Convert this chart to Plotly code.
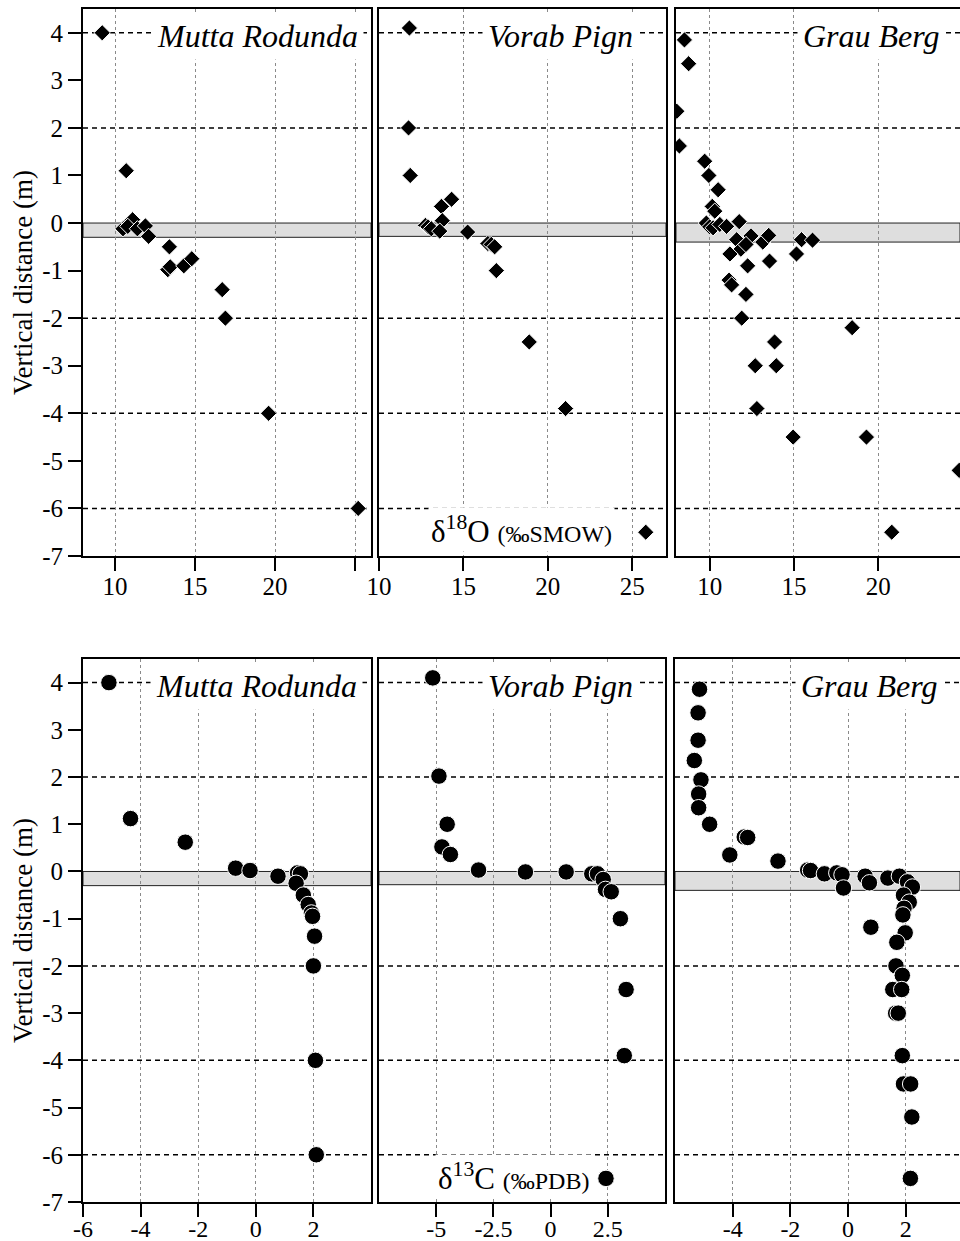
import plotly.graph_objects as go

# ---------------- data ----------------
sites = ["Mutta Rodunda", "Vorab Pign", "Grau Berg"]

# delta 18O (permil SMOW) vs vertical distance (m)
mr_o_x = [9.2, 10.7, 10.5, 10.9, 11.1, 10.8, 11.4, 11.9, 12.1, 13.4, 13.3, 13.45, 14.3, 14.8, 16.7, 16.9, 19.6, 25.2]
mr_o_y = [4.0, 1.1, -0.12, 0.0, 0.07, -0.07, -0.12, -0.06, -0.28, -0.5, -0.98, -0.92, -0.9, -0.75, -1.4, -2.0, -4.0, -6.0]

vp_o_x = [11.8, 11.75, 11.85, 14.3, 13.7, 13.75, 12.75, 12.9, 13.1, 13.6, 15.25, 16.45, 16.65, 16.85, 16.95, 18.9, 21.05]
vp_o_y = [4.1, 2.0, 1.0, 0.5, 0.35, 0.05, -0.05, -0.08, -0.12, -0.17, -0.19, -0.43, -0.45, -0.5, -1.0, -2.5, -3.9]

gb_o_x = [8.5, 8.75, 8.05, 8.2, 9.7, 9.95, 10.5, 10.15, 10.3, 9.8, 10.0, 10.2, 10.6, 11.0, 11.75, 11.6,
          12.45, 13.15, 13.5, 11.85, 12.15, 11.2, 12.25, 13.55, 15.15, 15.45, 16.1, 11.15, 11.3, 12.15,
          11.9, 18.45, 13.85, 12.7, 13.95, 12.8, 14.95, 19.3, 24.8, 20.8]
gb_o_y = [3.85, 3.35, 2.35, 1.62, 1.3, 1.0, 0.7, 0.35, 0.25, 0.0, -0.08, -0.1, -0.03, -0.07, 0.03, -0.35,
          -0.27, -0.4, -0.26, -0.55, -0.45, -0.65, -0.9, -0.8, -0.65, -0.35, -0.36, -1.2, -1.3, -1.5,
          -2.0, -2.2, -2.5, -3.0, -3.0, -3.9, -4.5, -4.5, -5.2, -6.5]

# delta 13C (permil PDB) vs vertical distance (m)
mr_c_x = [-5.1, -4.35, -2.45, -0.7, -0.2, 0.77, 1.45, 1.55, 1.4, 1.65, 1.82, 1.93, 1.97, 2.04, 2.0, 2.07, 2.1]
mr_c_y = [4.0, 1.12, 0.62, 0.07, 0.02, -0.1, -0.03, -0.05, -0.25, -0.5, -0.7, -0.88, -0.95, -1.37, -2.0, -4.0, -6.0]

vp_c_x = [-5.15, -4.88, -4.52, -4.75, -4.38, -3.15, -1.1, 0.68, 1.8, 2.05, 2.3, 2.4, 2.65, 3.05, 3.3, 3.22]
vp_c_y = [4.1, 2.02, 1.0, 0.52, 0.36, 0.03, -0.01, -0.01, -0.05, -0.05, -0.17, -0.38, -0.43, -1.0, -2.5, -3.9]

gb_c_x = [-5.15, -5.2, -5.2, -5.33, -5.1, -5.18, -5.18, -4.8, -4.1, -3.6, -3.48, -2.43, -1.4, -1.3, -0.82,
          -0.39, -0.21, -0.16, 0.59, 0.74, 1.38, 1.78, 2.06, 2.23, 1.92, 2.12, 1.94, 1.9, 0.79, 1.98, 1.69,
          1.66, 1.88, 1.55, 1.86, 1.65, 1.74, 1.88, 1.92, 2.17, 2.21, 2.16]
gb_c_y = [3.86, 3.36, 2.78, 2.35, 1.94, 1.64, 1.35, 1.0, 0.35, 0.73, 0.72, 0.22, 0.03, 0.02, -0.05,
          -0.03, -0.07, -0.35, -0.1, -0.24, -0.14, -0.1, -0.22, -0.33, -0.5, -0.65, -0.78, -0.92, -1.18, -1.3, -1.5,
          -2.0, -2.2, -2.5, -2.5, -3.0, -3.0, -3.9, -4.5, -4.5, -5.2, -6.5]

# legend symbols next to the isotope labels
leg_o_x, leg_o_y = [25.8], [-6.5]
leg_c_x, leg_c_y = [2.42], [-6.5]

# reference lines and shaded contact band depth per site
ref_lines = [4, 2, -2, -4, -6]
band_depth = [0.3, 0.28, 0.4]

y_ticks = list(range(-7, 5))
y_ticktext = [str(v) for v in y_ticks]
top_xticks = [[10, 15, 20, 25], [10, 15, 20, 25], [10, 15, 20]]
top_xtext = [["10", "15", "20", " "], ["10", "15", "20", "25"], ["10", "15", "20"]]
bot_xticks = [[-6, -4, -2, 0, 2], [-5, -2.5, 0, 2.5], [-4, -2, 0, 2]]
bot_xtext = [["-6", "-4", "-2", "0", "2"], ["-5", "-2.5", "0", "2.5"], ["-4", "-2", "0", "2"]]
top_ranges = [[8, 26], [10, 27], [8, 24.85]]
bot_ranges = [[-6, 4], [-7.5, 5], [-6, 3.88]]

# ---------------- layout geometry ----------------
W, H = 960, 1241
FONT = "Liberation Serif, Times New Roman, serif"
xdom_px = [(83, 371), (379, 666), (676, 960)]
xdom_px_bot = [(83, 371), (379, 665), (675, 960)]
ytop_px = (9, 556)
ybot_px = (659, 1202)


def ydom(p):
    return [1 - p[1] / H, 1 - p[0] / H]


fig = go.Figure()

top_data = [(mr_o_x, mr_o_y), (vp_o_x, vp_o_y), (gb_o_x, gb_o_y)]
bot_data = [(mr_c_x, mr_c_y), (vp_c_x, vp_c_y), (gb_c_x, gb_c_y)]

diamond = dict(symbol="diamond", size=12.5, color="black", line=dict(color="white", width=1))
circle = dict(symbol="circle", size=16.5, color="black", line=dict(color="white", width=1))

layout_axes = {}
shapes = []
annotations = []

for row in range(2):
    for col in range(3):
        idx = row * 3 + col + 1
        sfx = "" if idx == 1 else str(idx)
        xa, ya = "x" + sfx, "y" + sfx
        if row == 0:
            xs, ys = top_data[col]
            mk = diamond
            rng = top_ranges[col]
            tv, tt = top_xticks[col], top_xtext[col]
            xd = xdom_px[col]
            yd = ydom(ytop_px)
            standoff = -6
            tfs = 25
        else:
            xs, ys = bot_data[col]
            mk = circle
            rng = bot_ranges[col]
            tv, tt = bot_xticks[col], bot_xtext[col]
            xd = xdom_px_bot[col]
            yd = ydom(ybot_px)
            standoff = -9
            tfs = 24

        # shaded band
        shapes.append(dict(type="rect", xref=xa + " domain", yref=ya, x0=0, x1=1,
                           y0=-band_depth[col], y1=0, fillcolor="#dedede",
                           line=dict(color="#222", width=1), layer="below"))
        # dashed reference lines
        for v in ref_lines:
            shapes.append(dict(type="line", xref=xa + " domain", yref=ya, x0=0, x1=1,
                               y0=v, y1=v, line=dict(color="black", width=1.5, dash="5px,4px"),
                               layer="below"))

        fig.add_trace(go.Scatter(x=xs, y=ys, mode="markers", marker=mk,
                                 xaxis=xa, yaxis=ya, showlegend=False, cliponaxis=True))

        layout_axes["xaxis" + sfx] = dict(
            domain=[xd[0] / W, xd[1] / W], anchor=ya, range=rng,
            tickvals=tv, ticktext=tt, ticks="outside", ticklen=13, tickwidth=1.5,
            tickcolor="black", showline=True, linecolor="black", linewidth=2, mirror=True,
            showgrid=True, gridcolor="#8a8a8a", griddash="dot", gridwidth=1,
            zeroline=False, automargin=False, ticklabelstandoff=standoff,
            tickfont=dict(family=FONT, size=tfs, color="black"))
        layout_axes["yaxis" + sfx] = dict(
            domain=yd, anchor=xa, range=[-7, 4.5],
            tickvals=y_ticks if col == 0 else [],
            ticktext=y_ticktext if col == 0 else [],
            ticks="outside" if col == 0 else "", ticklen=13, tickwidth=1.5, tickcolor="black",
            showticklabels=(col == 0),
            showline=True, linecolor="black", linewidth=2, mirror=(col != 2),
            showgrid=False, zeroline=False, automargin=False,
            tickfont=dict(family=FONT, size=25, color="black"))

# legend symbols
fig.add_trace(go.Scatter(x=leg_o_x, y=leg_o_y, mode="markers", marker=diamond,
                         xaxis="x2", yaxis="y2", showlegend=False))
fig.add_trace(go.Scatter(x=leg_c_x, y=leg_c_y, mode="markers", marker=circle,
                         xaxis="x5", yaxis="y5", showlegend=False))

# site labels
site_cx_top = [257.5, 560, 871]
site_cx_bot = [256.7, 560, 869]
for col in range(3):
    for row, cx in ((0, site_cx_top[col]), (1, site_cx_bot[col])):
        ya = "y" if (row == 0 and col == 0) else "y" + str(row * 3 + col + 1)
        annotations.append(dict(
            text=sites[col], x=cx / W, xref="paper", y=4, yref=ya, yshift=-3,
            showarrow=False, xanchor="center", yanchor="middle",
            bgcolor="white", borderpad=5,
            font=dict(family=FONT, size=32, color="black", style="italic")))

# y titles
for ypx in ((ytop_px[0] + ytop_px[1]) / 2, (ybot_px[0] + ybot_px[1]) / 2):
    annotations.append(dict(text="Vertical distance (m)", x=22.5 / W, y=1 - ypx / H,
                            xref="paper", yref="paper", showarrow=False, textangle=-90,
                            xanchor="center", yanchor="middle",
                            font=dict(family=FONT, size=27, color="black")))

# isotope labels
annotations.append(dict(text='δ<sup>18</sup>O <span style="font-size:24px">(‰SMOW)</span>',
                        x=521.7 / W, y=1 - 530 / H, xref="paper", yref="paper",
                        showarrow=False, xanchor="center", yanchor="middle",
                        bgcolor="white", borderpad=2,
                        font=dict(family=FONT, size=31, color="black")))
annotations.append(dict(text='δ<sup>13</sup>C <span style="font-size:24px">(‰PDB)</span>',
                        x=513 / W, y=1 - 1176 / H, xref="paper", yref="paper",
                        showarrow=False, xanchor="center", yanchor="middle",
                        bgcolor="white", borderpad=2,
                        font=dict(family=FONT, size=31, color="black")))

fig.update_layout(
    width=W, height=H, margin=dict(l=0, r=0, t=0, b=0, pad=0),
    paper_bgcolor="white", plot_bgcolor="white", template="none",
    shapes=shapes, annotations=annotations, showlegend=False,
    font=dict(family=FONT, color="black"),
    **layout_axes)

fig.write_html("out.html")
